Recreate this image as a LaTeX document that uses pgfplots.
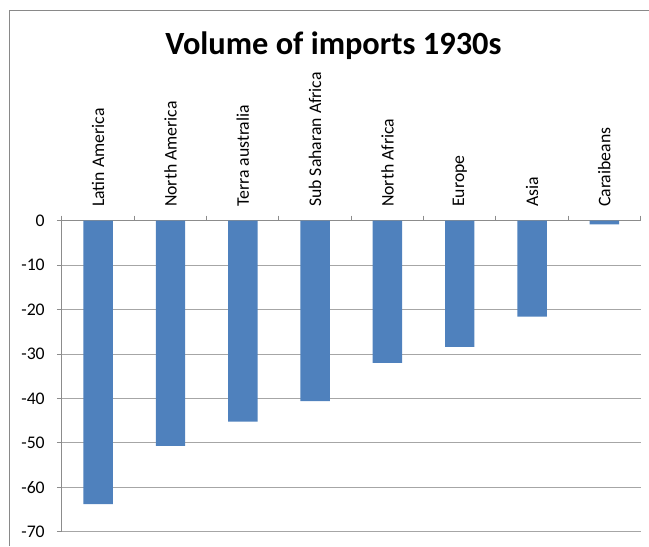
\documentclass[border=0pt]{standalone}
\usepackage{fontspec}
\setmainfont{Carlito}
\usepackage{pgfplots}
\pgfplotsset{compat=1.18}
\definecolor{barblue}{HTML}{4F81BD}
\definecolor{axisgray}{HTML}{8C8C8C}
\definecolor{gridgray}{HTML}{A6A6A6}
\definecolor{framegray}{HTML}{898989}
\begin{document}
\begin{tikzpicture}
  % page area and chart frame
  \useasboundingbox (0,0) rectangle (486.75pt,409.5pt);
  \draw[framegray, line width=1.1pt] (7.1pt,0pt) -- (7.1pt,401.6pt) -- (486.75pt,401.6pt);
  % chart title
  \node[anchor=base, font=\fontsize{24.3}{28}\selectfont\bfseries] at (250.1pt,368.25pt)
    {Volume of imports 1930s};
  \begin{axis}[
    at={(46.5pt,10.7pt)}, anchor=south west,
    scale only axis, width=433.9pt, height=233.25pt,
    xmin=-0.5, xmax=7.5, ymin=-70, ymax=0,
    axis x line*=top, axis y line*=left,
    axis line style={axisgray, line width=0.75pt},
    ytick={-70,-60,...,0},
    xtick={0,...,7},
    xticklabels={Latin America, North America, Terra australia, Sub Saharan Africa,
                 North Africa, Europe, Asia, Caraibeans},
    minor xtick={-0.5,0.5,...,7.5},
    major x tick style={draw=none},
    minor x tick style={axisgray, line width=0.75pt},
    y tick style={axisgray, line width=0.75pt},
    tick align=outside,
    major tick length=3.75pt, minor tick length=3.75pt,
    ymajorgrids, grid style={gridgray, line width=0.75pt},
    /pgf/number format/assume math mode=true,
    tick label style={font=\fontsize{13.3}{16}\selectfont},
    xticklabel style={inner xsep=6.5pt, inner ysep=0pt, rotate=90, anchor=west},
    yticklabel style={inner xsep=9pt, inner ysep=0pt, anchor=east},
    bar width=0.407,
  ]
    \addplot[ybar, fill=barblue, draw=none] coordinates {
      (0,-63.8) (1,-50.7) (2,-45.2) (3,-40.6)
      (4,-32.0) (5,-28.4) (6,-21.6) (7,-0.8)
    };
  \end{axis}
\end{tikzpicture}
\end{document}
